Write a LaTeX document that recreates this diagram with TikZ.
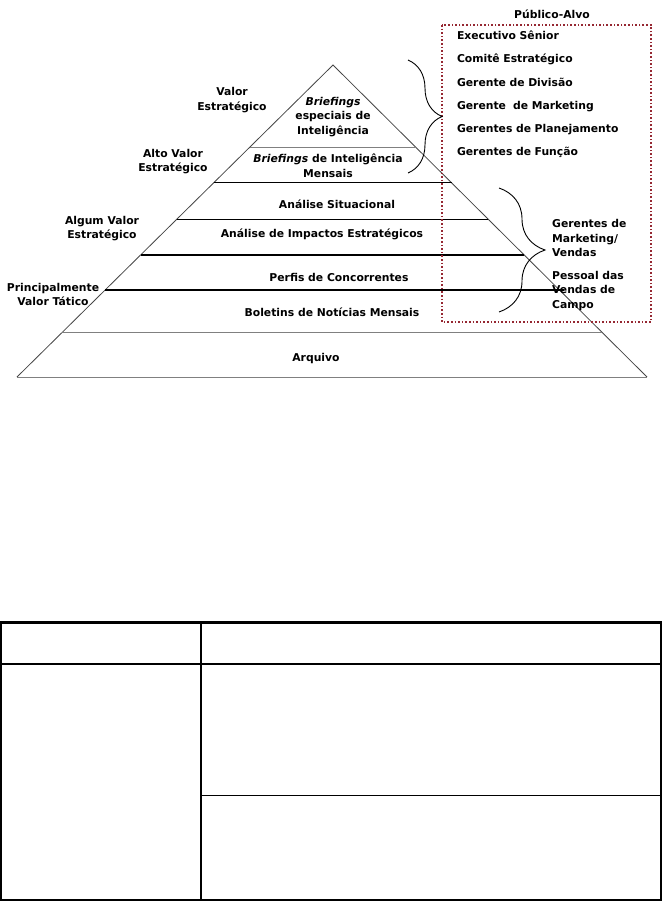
\documentclass[tikz,border=0pt]{standalone}
\usepackage{fontspec}
\setmainfont{DejaVu Sans}
\usepackage{tikz}
\usetikzlibrary{positioning, calc, decorations.pathreplacing}

\definecolor{boxred}{RGB}{150,40,50}
\definecolor{edgegray}{RGB}{70,70,70}

\begin{document}
\begin{tikzpicture}[
  x=1pt, y=-1pt,
  font=\fontsize{10.8}{14.5}\selectfont\bfseries,
  node distance=12.3pt,
  tiertext/.style={align=center, inner sep=0pt},
  sidetext/.style={align=center, inner sep=0pt},
  item/.style={
    text width=190pt,
    align=left,
    inner sep=0pt,
    text height=8pt,
    text depth=2.5pt
  },
  side/.style={edgegray, line width=0.8pt},
  tier/.style={black, line width=1.1pt},
  faint/.style={gray, line width=0.8pt},
  curly/.style={decorate, decoration={brace, amplitude=#1}, line width=0.9pt},
  audbox/.style={boxred, line width=1.6pt, dotted},
  tabline/.style={black, line width=2.5pt},
  tabthin/.style={black, line width=1pt}
]
\useasboundingbox (0,0) rectangle (664,902);

% Pyramid outline
\coordinate (apex) at (333,65);
\coordinate (baseL) at (17,377);
\coordinate (baseR) at (647,377);
\draw[side] (baseL) -- (apex) -- (baseR);
\draw[faint] (baseL) -- (baseR);

% Tier lines
\draw[faint] ($(apex)!0.263!(baseL)$) -- ($(apex)!0.263!(baseR)$);
\draw[tier] ($(apex)!0.378!(baseL)$) -- ($(apex)!0.378!(baseR)$);
\draw[tier] ($(apex)!0.494!(baseL)$) -- ($(apex)!0.494!(baseR)$);
\draw[tier] ($(apex)!0.609!(baseL)$) -- ($(apex)!0.609!(baseR)$);
\draw[tier] ($(apex)!0.721!(baseL)$) -- ($(apex)!0.721!(baseR)+(5,0)$);
\draw[faint] ($(apex)!0.856!(baseL)$) -- ($(apex)!0.856!(baseR)$);

% Tier contents
\node[tiertext] (special) at (333,117) {\textit{Briefings}\\especiais de\\Inteligência};
\node[tiertext] (monthly) at (328,166) {\textit{Briefings} de Inteligência\\Mensais};
\node[tiertext] (situation) at (337,204) {Análise Situacional};
\node[tiertext] (impacts) at (322,234) {Análise de Impactos Estratégicos};
\node[tiertext] (profiles) at (339,277) {Perfis de Concorrentes};
\node[tiertext] (bulletins) at (332,312) {Boletins de Notícias Mensais};
\node[tiertext] (archive) at (316,359) {Arquivo};

% Value labels on the left
\node[sidetext] (valor) at (232,100) {Valor\\Estratégico};
\node[sidetext] (alto) at (173,161.5) {Alto Valor\\Estratégico};
\node[sidetext] (algum) at (102,228.5) {Algum Valor\\Estratégico};
\node[sidetext] (tatico) at (53,294.5) {Principalmente\\Valor Tático};

% Target audience box
\coordinate (audNW) at (442,25);
\coordinate (audSE) at (651,322);
\draw[audbox] (audNW) rectangle (audSE);
\node[sidetext] (publico) at (552,14) {Público-Alvo};

\node[item] (exec) at (552,37) {Executivo Sênior};
\node[item, below=of exec] (comite) {Comitê Estratégico};
\node[item, below=of comite] (divisao) {Gerente de Divisão};
\node[item, below=of divisao] (marketing) {Gerente\ \ de Marketing};
\node[item, below=of marketing] (planej) {Gerentes de Planejamento};
\node[item, below=of planej] (funcao) {Gerentes de Função};

\node[sidetext, align=left, anchor=west] (vendas) at (552,238)
  {Gerentes de\\Marketing/\\Vendas};
\node[sidetext, align=left, anchor=west] (campo) at (552,291)
  {Pessoal das\\Vendas de\\Campo};

% Braces
\coordinate (upTop) at (408,60);
\coordinate (upBot) at (408,173);
\draw[curly=34] (upTop) -- (upBot);
\coordinate (lowTop) at (499,188);
\coordinate (lowBot) at (499,312);
\draw[curly=46] (lowTop) -- (lowBot);

% Empty table
\coordinate (tabNW) at (1,622.5);
\coordinate (tabSE) at (661,900);
\draw[tabline] (tabNW) rectangle (tabSE);
\draw[tabline] (1,664) -- (661,664);
\draw[tabline] (201,622.5) -- (201,900);
\draw[tabthin] (201,795) -- (661,795);

\end{tikzpicture}
\end{document}
